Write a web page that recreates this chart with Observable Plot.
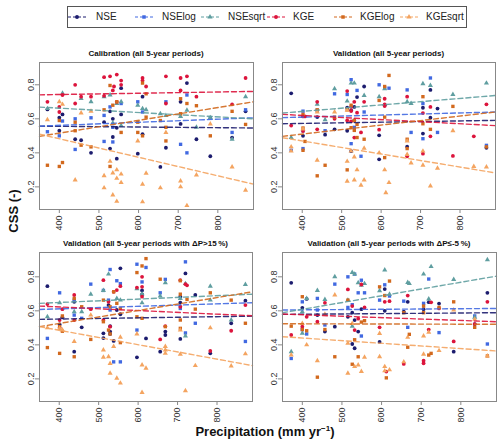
<!DOCTYPE html>
<html><head><meta charset="utf-8">
<script src="https://cdn.jsdelivr.net/npm/d3@7"></script>
<script src="https://cdn.jsdelivr.net/npm/@observablehq/plot@0.6"></script>
<style>
body{margin:0;background:#fff;font-family:"Liberation Sans",Arial,sans-serif;}
#root{position:relative;width:500px;height:443px;overflow:hidden;background:#fff;}
.abs{position:absolute;}
.ptitle{position:absolute;width:300px;text-align:center;font-weight:bold;font-size:8px;color:#111;white-space:nowrap;}
.leg{position:absolute;font-size:10px;color:#222;line-height:10px;}
</style></head><body><div id="root"></div>
<script>
// ---------- series ----------
const series = ["NSE","NSElog","NSEsqrt","KGE","KGElog","KGEsqrt"];
const colors = ["#1c1c6e","#4169e1","#5f9ea0","#dc143c","#d2691e","#f4a460"];
const symbols = ["circle","square","triangle","circle","square","triangle"];
const xTicks = [400,500,600,700,800];
const yTicks = [0.2,0.4,0.6,0.8];
const xExtent = [350,890];
const panelTitles = [
  "Calibration (all 5-year periods)",
  "Validation (all 5-year periods)",
  "Validation (all 5-year periods with \u0394P>15\u2009%)",
  "Validation (all 5-year periods with \u0394P\u2264-5\u2009%)"
];

// ---------- panel 1: calibration [precipitation, CSS] ----------
const calNSE = [[370,0.655],[400,0.607],[400,0.53],[408,0.626],[440,0.48],[455,0.474],[480,0.40],[513,0.58],[528,0.644],[528,0.425],[535,0.60],[535,0.493],[545,0.547],[545,0.366],[556,0.78],[556,0.626],[598,0.395],[610,0.73],[610,0.51],[655,0.317],[669,0.43],[706,0.70],[706,0.57],[722,0.81],[746,0.48],[781,0.38],[836,0.49],[870,0.644]];
const calNSElog = [[370,0.524],[400,0.50],[408,0.587],[440,0.60],[440,0.42],[480,0.606],[513,0.62],[513,0.467],[528,0.67],[535,0.55],[535,0.464],[556,0.69],[598,0.70],[610,0.64],[669,0.70],[706,0.45],[722,0.74],[722,0.40],[781,0.607],[836,0.52],[870,0.653]];
const calNSEsqrt = [[370,0.66],[408,0.75],[455,0.72],[480,0.70],[513,0.73],[528,0.74],[535,0.575],[545,0.69],[556,0.70],[556,0.56],[598,0.68],[610,0.66],[619,0.653],[655,0.63],[669,0.62],[706,0.614],[722,0.65],[746,0.55],[781,0.607],[836,0.48],[870,0.73]];
const calKGE = [[370,0.70],[400,0.64],[400,0.67],[408,0.74],[440,0.80],[440,0.69],[455,0.73],[480,0.73],[513,0.845],[513,0.735],[528,0.85],[535,0.767],[538,0.79],[545,0.86],[545,0.70],[556,0.825],[556,0.80],[610,0.84],[610,0.825],[619,0.79],[669,0.85],[669,0.69],[706,0.84],[706,0.767],[722,0.85],[746,0.73],[836,0.685],[870,0.84]];
const calKGElog = [[370,0.327],[400,0.32],[400,0.59],[408,0.343],[440,0.58],[440,0.53],[455,0.445],[480,0.435],[513,0.653],[528,0.796],[528,0.32],[535,0.68],[545,0.70],[556,0.52],[598,0.58],[598,0.52],[610,0.81],[610,0.50],[619,0.747],[619,0.61],[655,0.59],[669,0.47],[669,0.55],[706,0.718],[706,0.63],[722,0.69],[746,0.677],[781,0.50],[836,0.644],[870,0.567]];
const calKGEsqrt = [[370,0.595],[400,0.70],[408,0.685],[440,0.24],[455,0.634],[480,0.645],[513,0.265],[513,0.194],[528,0.35],[535,0.282],[535,0.152],[545,0.30],[545,0.115],[545,0.25],[556,0.275],[556,0.225],[598,0.47],[610,0.215],[610,0.112],[619,0.28],[655,0.194],[669,0.52],[706,0.235],[706,0.20],[722,0.09],[746,0.27],[781,0.57],[836,0.317],[870,0.18]];
const calTrendStart = [0.557,0.557,0.669,0.741,0.497,0.51];
const calTrendEnd   = [0.546,0.606,0.600,0.761,0.700,0.216];

// ---------- panel 2: validation, all periods ----------
const valNSE = [[372,0.75],[402,0.50],[438,0.61],[458,0.507],[482,0.538],[514,0.665],[514,0.53],[524,0.65],[524,0.41],[532,0.67],[532,0.59],[539,0.728],[557,0.79],[595,0.503],[595,0.362],[609,0.68],[666,0.436],[706,0.665],[706,0.513],[725,0.77],[725,0.607],[743,0.66],[867,0.43]];
const valNSElog = [[372,0.415],[402,0.645],[402,0.53],[402,0.425],[438,0.65],[458,0.53],[482,0.747],[514,0.743],[524,0.83],[524,0.454],[532,0.55],[539,0.767],[549,0.38],[557,0.64],[595,0.80],[609,0.782],[620,0.78],[666,0.77],[676,0.52],[706,0.483],[706,0.69],[725,0.84],[743,0.52],[867,0.444]];
const valNSEsqrt = [[372,0.49],[402,0.614],[438,0.685],[458,0.595],[482,0.777],[514,0.704],[524,0.81],[532,0.81],[557,0.737],[595,0.73],[609,0.777],[666,0.70],[676,0.69],[706,0.806],[725,0.796],[782,0.743],[867,0.81]];
const valKGE = [[372,0.56],[402,0.614],[402,0.528],[407,0.614],[438,0.70],[438,0.538],[482,0.60],[514,0.763],[514,0.59],[524,0.646],[524,0.67],[524,0.585],[532,0.70],[532,0.49],[539,0.636],[549,0.52],[557,0.70],[595,0.536],[609,0.718],[609,0.685],[609,0.675],[666,0.73],[666,0.38],[706,0.634],[706,0.395],[725,0.67],[725,0.497],[782,0.382],[835,0.497],[867,0.685]];
const valKGElog = [[402,0.546],[402,0.415],[402,0.626],[407,0.467],[438,0.653],[438,0.265],[458,0.327],[482,0.61],[514,0.653],[514,0.30],[524,0.68],[524,0.548],[532,0.532],[532,0.59],[539,0.49],[539,0.567],[557,0.48],[595,0.708],[609,0.79],[609,0.61],[609,0.372],[620,0.855],[666,0.48],[666,0.425],[706,0.73],[706,0.571],[725,0.538],[782,0.673],[867,0.435]];
const valKGEsqrt = [[372,0.435],[372,0.41],[402,0.54],[438,0.64],[438,0.356],[482,0.64],[514,0.65],[514,0.35],[514,0.233],[524,0.41],[532,0.376],[532,0.24],[539,0.30],[549,0.21],[557,0.24],[557,0.427],[595,0.40],[609,0.30],[612,0.165],[620,0.225],[666,0.47],[666,0.39],[676,0.34],[706,0.327],[706,0.41],[725,0.205],[743,0.31],[782,0.53],[835,0.32],[867,0.317]];
const valTrendStart = [0.571,0.607,0.634,0.626,0.497,0.489];
const valTrendEnd   = [0.591,0.640,0.737,0.560,0.640,0.282];

// ---------- panel 3: validation, dP > 15 % ----------
const wetNSE = [[370,0.745],[401,0.52],[408,0.562],[438,0.653],[438,0.36],[457,0.503],[512,0.468],[512,0.44],[525,0.634],[529,0.51],[529,0.464],[529,0.478],[538,0.423],[546,0.605],[555,0.85],[555,0.58],[597,0.327],[610,0.72],[610,0.696],[620,0.438],[656,0.36],[669,0.478],[669,0.458],[707,0.683],[707,0.648],[707,0.435],[720,0.82],[745,0.693],[783,0.35],[836,0.527],[872,0.66]];
const wetNSElog = [[370,0.438],[401,0.706],[438,0.663],[438,0.575],[457,0.556],[480,0.757],[512,0.72],[525,0.663],[529,0.843],[529,0.605],[538,0.30],[546,0.777],[555,0.76],[555,0.30],[597,0.874],[597,0.487],[610,0.77],[620,0.855],[656,0.706],[669,0.785],[707,0.614],[720,0.888],[720,0.47],[745,0.527],[872,0.42]];
const wetNSEsqrt = [[370,0.565],[401,0.647],[438,0.595],[457,0.595],[480,0.698],[512,0.72],[525,0.816],[546,0.673],[555,0.663],[597,0.73],[610,0.70],[610,0.647],[656,0.687],[669,0.765],[707,0.673],[720,0.76],[720,0.452],[783,0.745],[783,0.663],[836,0.546],[872,0.755]];
const wetKGE = [[370,0.64],[401,0.546],[401,0.50],[408,0.61],[438,0.693],[438,0.546],[480,0.61],[512,0.78],[512,0.546],[525,0.653],[529,0.507],[538,0.712],[546,0.722],[555,0.745],[597,0.737],[610,0.80],[610,0.741],[610,0.683],[656,0.432],[669,0.51],[707,0.78],[707,0.624],[720,0.757],[724,0.75],[783,0.364],[836,0.483],[872,0.634]];
const wetKGElog = [[370,0.384],[401,0.35],[401,0.507],[408,0.57],[408,0.48],[438,0.673],[438,0.33],[457,0.624],[480,0.432],[512,0.663],[512,0.536],[525,0.487],[529,0.464],[529,0.624],[538,0.712],[546,0.644],[555,0.614],[555,0.413],[597,0.825],[597,0.565],[610,0.864],[610,0.556],[620,0.907],[656,0.786],[669,0.507],[707,0.777],[707,0.546],[707,0.497],[707,0.698],[724,0.667],[745,0.61],[783,0.706],[836,0.663],[872,0.527]];
const wetKGEsqrt = [[370,0.50],[401,0.497],[408,0.487],[438,0.42],[480,0.575],[512,0.37],[512,0.327],[525,0.33],[529,0.29],[529,0.233],[538,0.39],[546,0.204],[555,0.445],[555,0.175],[597,0.464],[610,0.282],[610,0.12],[620,0.263],[669,0.39],[669,0.37],[669,0.35],[707,0.487],[707,0.345],[720,0.13],[745,0.278],[783,0.50],[836,0.276],[872,0.347]];
const wetTrendStart = [0.550,0.608,0.644,0.628,0.507,0.507];
const wetTrendEnd   = [0.569,0.648,0.698,0.571,0.712,0.278];

// ---------- panel 4: validation, dP <= -5 % ----------
const dryNSE = [[372,0.765],[400,0.618],[411,0.67],[438,0.575],[457,0.478],[482,0.507],[515,0.565],[526,0.589],[526,0.405],[532,0.38],[532,0.546],[541,0.478],[549,0.61],[595,0.417],[608,0.728],[608,0.60],[656,0.595],[666,0.653],[706,0.61],[719,0.651],[745,0.643],[782,0.36],[835,0.522],[867,0.706]];
const dryNSElog = [[372,0.32],[400,0.653],[400,0.49],[411,0.464],[438,0.673],[438,0.605],[457,0.517],[482,0.757],[515,0.80],[515,0.62],[526,0.636],[532,0.816],[541,0.706],[549,0.78],[549,0.452],[557,0.706],[595,0.663],[608,0.753],[620,0.687],[656,0.657],[666,0.503],[706,0.644],[719,0.787],[745,0.472],[835,0.57],[867,0.405]];
const dryNSEsqrt = [[372,0.36],[400,0.595],[400,0.468],[411,0.673],[438,0.72],[457,0.667],[482,0.80],[515,0.663],[526,0.825],[526,0.51],[532,0.816],[541,0.765],[549,0.75],[557,0.76],[595,0.718],[608,0.84],[620,0.698],[666,0.767],[670,0.76],[706,0.816],[719,0.67],[725,0.86],[782,0.784],[835,0.562],[867,0.90]];
const dryKGE = [[372,0.458],[400,0.507],[411,0.565],[438,0.536],[457,0.647],[515,0.726],[526,0.628],[532,0.487],[541,0.554],[549,0.755],[557,0.62],[595,0.503],[608,0.653],[612,0.243],[620,0.657],[656,0.288],[666,0.69],[706,0.292],[706,0.307],[719,0.49],[725,0.65],[745,0.614],[782,0.42],[835,0.522],[867,0.653]];
const dryKGElog = [[372,0.51],[400,0.683],[400,0.49],[411,0.483],[438,0.21],[457,0.49],[482,0.33],[515,0.663],[526,0.286],[532,0.43],[541,0.33],[549,0.534],[557,0.542],[595,0.741],[608,0.69],[612,0.206],[620,0.775],[656,0.589],[666,0.386],[670,0.462],[706,0.628],[706,0.589],[719,0.34],[725,0.35],[745,0.62],[782,0.653],[835,0.503],[867,0.335]];
const dryKGEsqrt = [[372,0.34],[400,0.526],[411,0.40],[438,0.307],[457,0.58],[482,0.693],[515,0.233],[515,0.41],[526,0.526],[532,0.272],[541,0.282],[549,0.243],[557,0.327],[595,0.33],[595,0.467],[608,0.247],[608,0.272],[620,0.253],[656,0.30],[666,0.444],[706,0.345],[706,0.452],[719,0.474],[745,0.366],[782,0.605],[835,0.55],[867,0.335]];
const dryTrendStart = [0.579,0.605,0.589,0.581,0.524,0.448];
const dryTrendEnd   = [0.589,0.614,0.804,0.536,0.521,0.364];

// ---------- assemble ----------
const panelData = [
  {pts:[calNSE,calNSElog,calNSEsqrt,calKGE,calKGElog,calKGEsqrt], t0:calTrendStart, t1:calTrendEnd},
  {pts:[valNSE,valNSElog,valNSEsqrt,valKGE,valKGElog,valKGEsqrt], t0:valTrendStart, t1:valTrendEnd},
  {pts:[wetNSE,wetNSElog,wetNSEsqrt,wetKGE,wetKGElog,wetKGEsqrt], t0:wetTrendStart, t1:wetTrendEnd},
  {pts:[dryNSE,dryNSElog,dryNSEsqrt,dryKGE,dryKGElog,dryKGEsqrt], t0:dryTrendStart, t1:dryTrendEnd}
];

// layout (pixel boxes of each plotting frame)
const layout = [
  {l:39, r:253, t:62, b:209, y:[0.067,0.931]},
  {l:282,r:495, t:62, b:209, y:[0.067,0.931]},
  {l:39, r:252, t:252,b:401, y:[0.067,0.943]},
  {l:282,r:496, t:252,b:401, y:[0.067,0.943]}
];

const root = document.getElementById("root");
const mL = 32, mR = 4, mT = 4, mB = 30;

panelData.forEach((pd, i) => {
  const L = layout[i];
  const rows = [];
  pd.pts.forEach((arr, s) => arr.forEach(([p, v]) => rows.push({series: series[s], P: p, v})));
  const trend = [];
  series.forEach((s, k) => {
    trend.push({series: s, P: xExtent[0], v: pd.t0[k]});
    trend.push({series: s, P: xExtent[1], v: pd.t1[k]});
  });
  const chart = Plot.plot({
    width: (L.r - L.l) + mL + mR,
    height: (L.b - L.t) + mT + mB,
    marginLeft: mL, marginRight: mR, marginTop: mT, marginBottom: mB,
    style: {fontFamily: '"Liberation Sans", Arial, sans-serif', fontSize: "9px", color: "#333", background: "transparent"},
    x: {domain: xExtent, label: null},
    y: {domain: L.y, label: null},
    color: {domain: series, range: colors},
    symbol: {domain: series, range: symbols},
    marks: [
      Plot.dot(rows, {x: "P", y: "v", fill: "series", symbol: "series", r: 1.9, stroke: "none"}),
      Plot.line(trend, {x: "P", y: "v", z: "series", stroke: "series", strokeWidth: 1.4, strokeDasharray: "5,3", strokeOpacity: 0.9}),
      Plot.frame({stroke: "#888", strokeWidth: 1}),
      Plot.axisX({ticks: xTicks, tickSize: 4, tickPadding: 2, tickRotate: -90, stroke: "#888", fill: "#333", tickFormat: d => String(d)}),
      Plot.axisY({ticks: yTicks, tickSize: 4, tickPadding: 2, tickRotate: -90, stroke: "#888", fill: "#333", tickFormat: d3.format(".1f")})
    ]
  });
  chart.style.position = "absolute";
  chart.style.left = (L.l - mL) + "px";
  chart.style.top = (L.t - mT) + "px";
  root.appendChild(chart);

  const tt = document.createElement("div");
  tt.className = "ptitle";
  tt.textContent = panelTitles[i];
  tt.style.left = ((L.l + L.r) / 2 - 150) + "px";
  tt.style.top = (L.t - 13) + "px";
  root.appendChild(tt);
});

// ---------- legend ----------
const legBox = document.createElement("div");
legBox.className = "abs";
Object.assign(legBox.style, {left: "67px", top: "6px", width: "400px", height: "22px", border: "1px solid #555", boxSizing: "border-box"});
root.appendChild(legBox);
const symX = [68,135,201,267,334,400];
const labX = [96,162,228,293,360,426];
series.forEach((s, i) => {
  const sv = d3.create("svg").attr("width", 18).attr("height", 10)
    .style("position", "absolute").style("left", symX[i] + "px").style("top", "12px");
  sv.append("line").attr("x1", 0).attr("x2", 18).attr("y1", 5).attr("y2", 5)
    .attr("stroke", colors[i]).attr("stroke-width", 1).attr("stroke-dasharray", "3,2");
  const sym = {circle: d3.symbolCircle, square: d3.symbolSquare, triangle: d3.symbolTriangle}[symbols[i]];
  sv.append("path").attr("d", d3.symbol(sym, 12)()).attr("transform", "translate(9,5)").attr("fill", colors[i]);
  root.appendChild(sv.node());
  const lb = document.createElement("div");
  lb.className = "leg";
  lb.textContent = s;
  lb.style.left = labX[i] + "px";
  lb.style.top = "12px";
  root.appendChild(lb);
});

// ---------- axis titles ----------
const yt = document.createElement("div");
yt.className = "abs";
yt.textContent = "CSS (-)";
Object.assign(yt.style, {left: "13px", top: "211px", transform: "translate(-50%,-50%) rotate(-90deg)", fontWeight: "bold", fontSize: "13px", color: "#111", whiteSpace: "nowrap"});
root.appendChild(yt);
const xt = document.createElement("div");
xt.className = "abs";
xt.innerHTML = "Precipitation (mm yr<sup style='font-size:8px;vertical-align:5px'>\u22121</sup>)";
Object.assign(xt.style, {left: "265px", top: "431px", transform: "translate(-50%,-50%)", fontWeight: "bold", fontSize: "13px", color: "#111", whiteSpace: "nowrap"});
root.appendChild(xt);
</script></body></html>
